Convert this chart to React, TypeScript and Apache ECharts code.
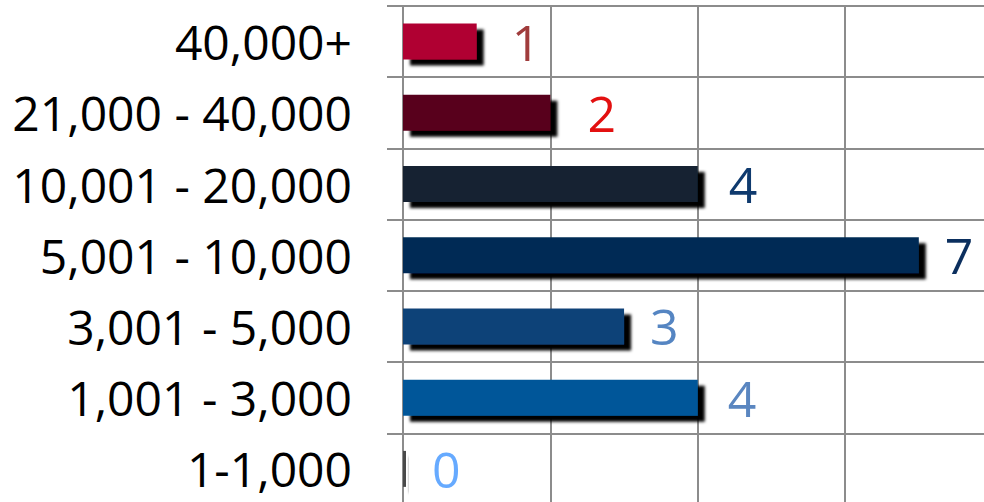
import React, { useEffect, useRef } from "react";
import * as echarts from "echarts";

const categories = [
  "1-1,000",
  "1,001 - 3,000",
  "3,001 - 5,000",
  "5,001 - 10,000",
  "10,001 - 20,000",
  "21,000 - 40,000",
  "40,000+",
];
const counts = [0, 4, 3, 7, 4, 2, 1];
const barColors = ["#4a4a4a", "#005699", "#0e4278", "#002b55", "#122030", "#58061d", "#b00233"];
const labelColors = ["#66aaff", "#5a86c0", "#5585c2", "#0b2f5e", "#0f3a6e", "#e31010", "#a03c3c"];
const labelExtraGap = [0, 4, 0, 0, 5, 11, 9];
const xTicks = { min: 0, max: 8, interval: 2 };

const FONT = "'Open Sans', 'Liberation Sans', sans-serif";
const GRID = "#8c8c8c";

export default function App() {
  const ref = useRef<HTMLDivElement>(null);
  useEffect(() => {
    if (!ref.current) return;
    const chart = echarts.init(ref.current, undefined, { renderer: "svg" });
    chart.setOption({
      animation: false,
      grid: { left: 403, right: 0.5, top: 6, bottom: 0.5, containLabel: false },
      xAxis: {
        type: "value",
        min: xTicks.min,
        max: xTicks.max,
        interval: xTicks.interval,
        axisLabel: { show: false },
        axisLine: { show: false },
        axisTick: { show: false },
        splitLine: { show: true, lineStyle: { color: GRID, width: 2 } },
      },
      yAxis: {
        type: "category",
        data: categories,
        axisLine: { show: true, lineStyle: { color: GRID, width: 2 } },
        axisTick: { show: true, length: 16, lineStyle: { color: GRID, width: 2 } },
        splitLine: { show: true, lineStyle: { color: GRID, width: 2 } },
        axisLabel: {
          margin: 51,
          color: "#000",
          fontFamily: FONT,
          fontSize: 48,
          padding: [12, 0, 0, 0],
        },
      },
      series: [
        {
          type: "bar",
          barWidth: 36,
          barMinHeight: 3,
          data: counts.map((v, i) => ({
            value: v,
            itemStyle: { color: barColors[i] },
            label: { color: labelColors[i], distance: 26 + labelExtraGap[i] },
          })),
          itemStyle: {
            shadowColor: "rgba(0,0,0,1)",
            shadowBlur: 3,
            shadowOffsetX: 7,
            shadowOffsetY: 6,
          },
          label: {
            show: true,
            position: "right",
            distance: 26,
            fontFamily: FONT,
            fontSize: 50,
            padding: [30, 0, 0, 0],
          },
        },
      ],
    });
    return () => chart.dispose();
  }, []);
  return (
    <div style={{ position: "fixed", left: 0, top: 0, width: 984, height: 502, overflow: "hidden", background: "#fff" }}>
      <div ref={ref} style={{ position: "absolute", left: 0, top: 0, width: 993, height: 505 }} />
    </div>
  );
}
